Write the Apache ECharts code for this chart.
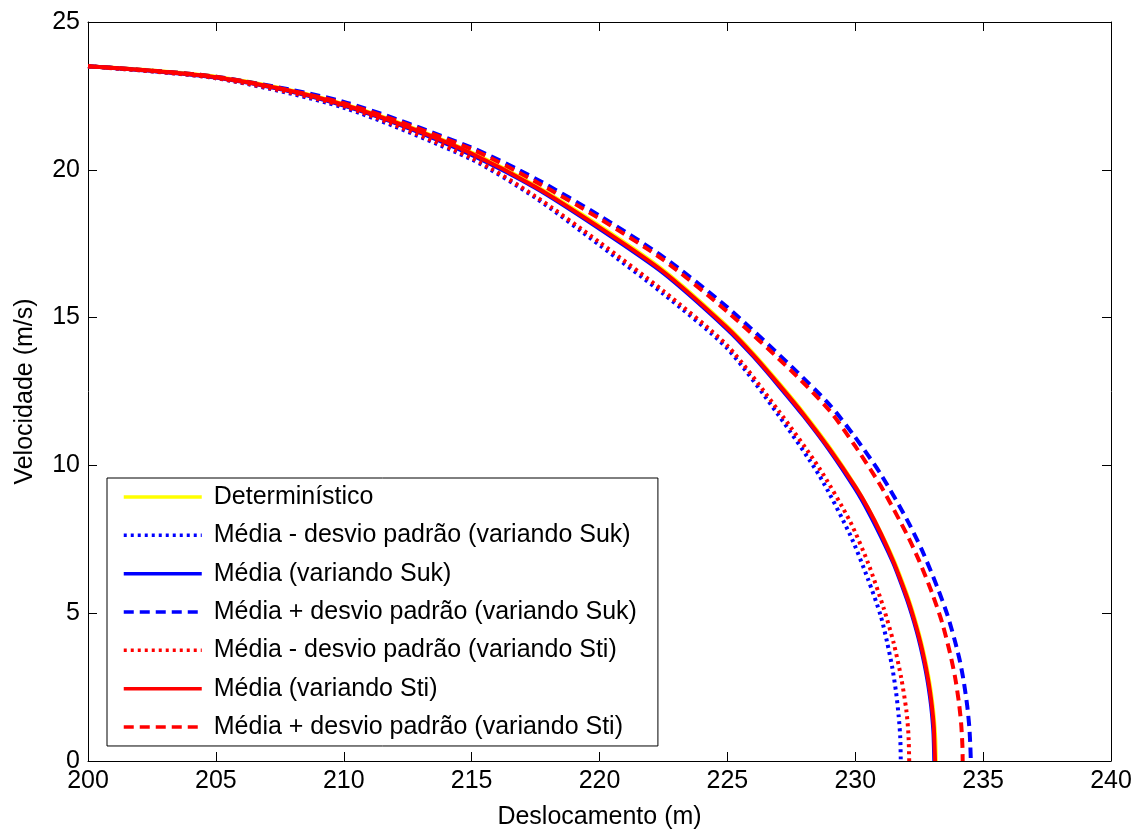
<!DOCTYPE html>
<html>
<head>
<meta charset="utf-8">
<script src="https://cdn.jsdelivr.net/npm/echarts@6/dist/echarts.min.js"></script>
<style>
html,body{margin:0;padding:0;background:#fff;}
#chart{width:1140px;height:830px;}
</style>
</head>
<body>
<div id="chart"></div>
<script>
// Series names (legend order)
const seriesNames = [
  'Determinístico',
  'Média - desvio padrão (variando Suk)',
  'Média (variando Suk)',
  'Média + desvio padrão (variando Suk)',
  'Média - desvio padrão (variando Sti)',
  'Média (variando Sti)',
  'Média + desvio padrão (variando Sti)'
];

// [deslocamento (m), velocidade (m/s)]
const deterministico = [[200,23.5],[202.5,23.36],[205,23.15],[207.5,22.77],[210,22.22],[212.5,21.48],[215,20.58],[217.5,19.45],[220,18.1],[222.5,16.6],[225,14.7],[226,13.8],[227,12.8],[228,11.75],[229,10.6],[230,9.3],[230.5,8.55],[231,7.72],[231.5,6.8],[232,5.68],[232.2,5.16],[232.4,4.58],[232.55,4.1],[232.7,3.55],[232.82,3.04],[232.92,2.54],[233.0,2.05],[233.07,1.5],[233.13,0.75],[233.15,0]];
const mediaMenosSuk = [[200,23.5],[205,23.1],[210,22.1],[215,20.35],[217.5,19.05],[220,17.45],[222.5,15.8],[225,13.95],[227,11.7],[228.6,9.65],[229.8,7.65],[230.5,6.15],[231,4.9],[231.25,4.0],[231.45,3.15],[231.6,2.3],[231.7,1.5],[231.76,0.8],[231.78,0]];
const mediaSuk = [[200,23.5],[202.5,23.34],[205,23.12],[207.5,22.73],[210,22.17],[212.5,21.42],[215,20.5],[217.5,19.38],[220,18.0],[222.5,16.5],[225,14.6],[226,13.7],[227,12.7],[228,11.65],[229,10.5],[230,9.2],[230.5,8.45],[231,7.6],[231.5,6.67],[232,5.52],[232.2,4.99],[232.4,4.4],[232.55,3.89],[232.7,3.3],[232.82,2.75],[232.92,2.18],[233.0,1.59],[233.06,0.92],[233.09,0]];
const mediaMaisSuk = [[200,23.5],[205,23.15],[210,22.3],[215,20.75],[217.5,19.7],[220,18.45],[222.5,17.05],[225,15.35],[227.5,13.35],[229,12.05],[230,10.95],[231,9.7],[232,8.2],[232.6,7.15],[233.2,5.9],[233.6,4.95],[233.9,4.05],[234.1,3.35],[234.25,2.65],[234.38,1.85],[234.46,1.15],[234.5,0.5],[234.52,0]];
const mediaMenosSti = [[200,23.5],[205,23.1],[210,22.15],[215,20.4],[217.5,19.1],[220,17.55],[222.5,15.9],[225,14.05],[227,11.85],[228.6,9.9],[229.8,8.1],[230.5,6.7],[231.1,5.2],[231.5,4.0],[231.8,2.8],[232.0,1.7],[232.08,0.9],[232.11,0]];
const mediaSti = [[200,23.5],[202.5,23.35],[205,23.13],[207.5,22.75],[210,22.2],[212.5,21.45],[215,20.55],[217.5,19.42],[220,18.05],[222.5,16.55],[225,14.65],[226,13.75],[227,12.75],[228,11.7],[229,10.55],[230,9.28],[230.5,8.55],[231,7.7],[231.5,6.73],[232,5.6],[232.2,5.08],[232.4,4.49],[232.55,4.0],[232.7,3.43],[232.82,2.9],[232.92,2.37],[233.0,1.83],[233.07,1.18],[233.12,0]];
const mediaMaisSti = [[200,23.5],[205,23.15],[210,22.25],[215,20.7],[217.5,19.6],[220,18.35],[222.5,16.95],[225,15.2],[227.5,13.2],[229,11.85],[230,10.65],[231,9.3],[232,7.7],[232.5,6.77],[233,5.69],[233.4,4.67],[233.7,3.67],[233.9,2.85],[234.05,2.0],[234.14,1.27],[234.19,0.52],[234.2,0]];

const xTicks = [200,205,210,215,220,225,230,235,240];
const yTicks = [0,5,10,15,20,25];

const FONT = '"Liberation Sans", Arial, sans-serif';
const chart = echarts.init(document.getElementById('chart'), null, {renderer:'canvas'});

function mk(name, data, color, type) {
  return {
    name: name, type: 'line', data: data, showSymbol: false, symbol: 'none',
    smooth: 0.25, animation: false,
    lineStyle: {color: color, width: 4, type: type, cap: 'butt'},
    itemStyle: {color: color}
  };
}

const axisCommon = {
  type: 'value',
  axisLine: {show: true, onZero: false, lineStyle: {color: '#000', width: 1}},
  axisTick: {show: true, inside: true, length: 9, lineStyle: {color: '#000', width: 1}},
  splitLine: {show: false}
};

chart.setOption({
  backgroundColor: '#fff',
  animation: false,
  grid: {left: 88, right: 29, top: 22, bottom: 69, containLabel: false, outerBoundsMode: 'none'},
  xAxis: [
    Object.assign({}, axisCommon, {
      position: 'bottom', min: xTicks[0], max: xTicks[xTicks.length-1], interval: 5,
      name: 'Deslocamento (m)', nameLocation: 'middle', nameGap: 44,
      nameTextStyle: {fontFamily: FONT, fontSize: 25, color: '#000'},
      axisLabel: {fontFamily: FONT, fontSize: 25, color: '#000', margin: 8}
    }),
    Object.assign({}, axisCommon, {
      position: 'top', min: xTicks[0], max: xTicks[xTicks.length-1], interval: 5,
      axisLabel: {show: false}
    })
  ],
  yAxis: [
    Object.assign({}, axisCommon, {
      position: 'left', min: yTicks[0], max: yTicks[yTicks.length-1], interval: 5,
      name: 'Velocidade (m/s)', nameLocation: 'middle', nameGap: 50,
      nameTextStyle: {fontFamily: FONT, fontSize: 25, color: '#000'},
      axisLabel: {fontFamily: FONT, fontSize: 25, color: '#000', margin: 8}
    }),
    Object.assign({}, axisCommon, {
      position: 'right', min: yTicks[0], max: yTicks[yTicks.length-1], interval: 5,
      axisLabel: {show: false}
    })
  ],
  legend: {
    orient: 'vertical', left: 107, top: 478,
    backgroundColor: '#fff', borderColor: '#000', borderWidth: 1,
    padding: [6, 21, 6, 15],
    itemWidth: 78, itemHeight: 26, itemGap: 12.33,
    itemStyle: {opacity: 0, borderWidth: 0},
    lineStyle: {width: 3.5},
    textStyle: {fontFamily: FONT, fontSize: 25, color: '#000', padding: [0,0,0,7], lineHeight: 26},
    data: seriesNames
  },
  series: [
    mk(seriesNames[0], deterministico, '#ffff00', 'solid'),
    mk(seriesNames[1], mediaMenosSuk, '#0000ff', [3, 4]),
    mk(seriesNames[2], mediaSuk, '#0000ff', 'solid'),
    mk(seriesNames[3], mediaMaisSuk, '#0000ff', [10, 6]),
    mk(seriesNames[4], mediaMenosSti, '#ff0000', [3, 4]),
    mk(seriesNames[5], mediaSti, '#ff0000', 'solid'),
    mk(seriesNames[6], mediaMaisSti, '#ff0000', [10, 6])
  ]
});
</script>
</body>
</html>
